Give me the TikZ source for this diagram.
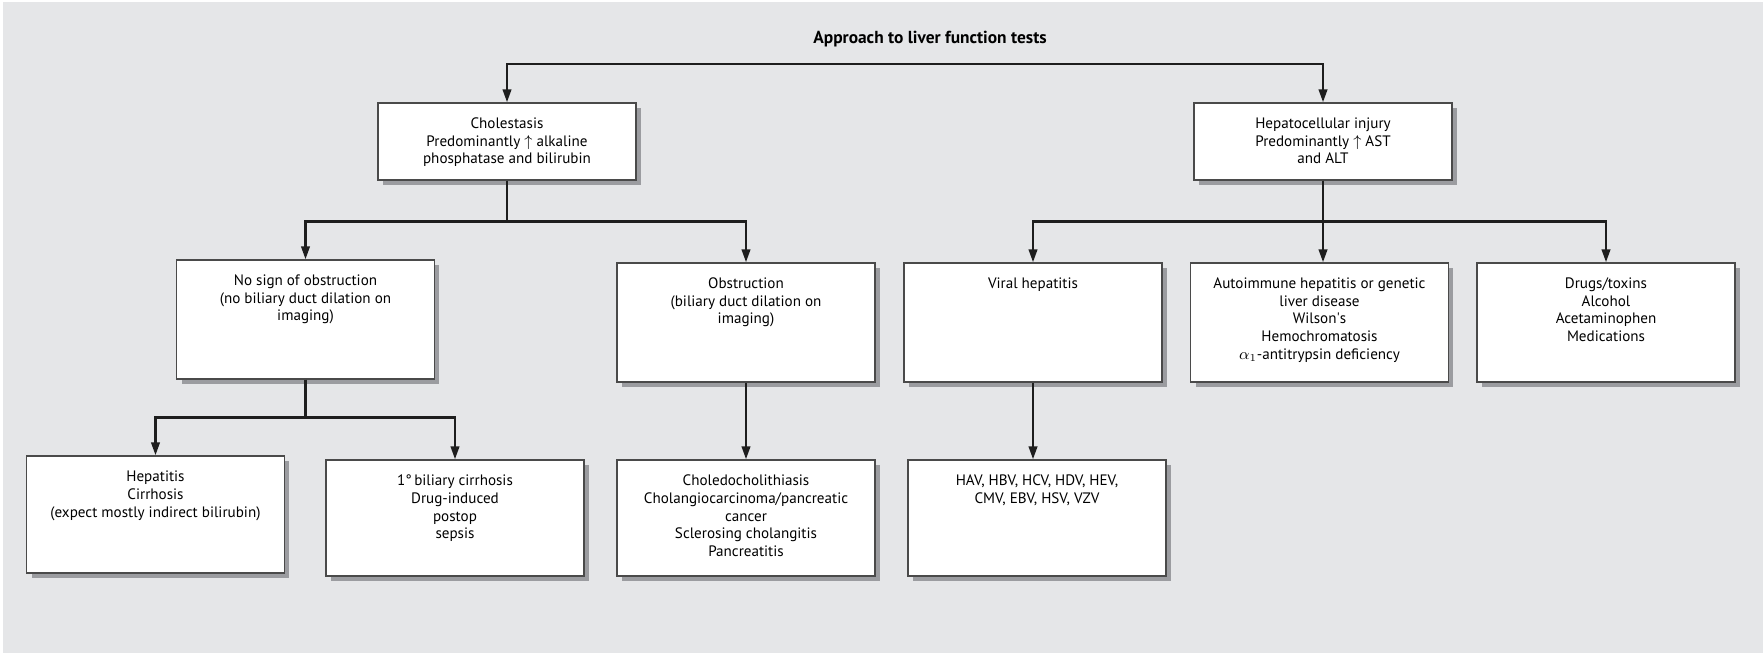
\documentclass[tikz,border=0pt]{standalone}
\usepackage{fontspec}
\setmainfont{PT Sans}
\usetikzlibrary{arrows.meta,shadows}
\definecolor{bggray}{HTML}{E5E6E8}
\definecolor{shadowgray}{HTML}{9B9CA0}
\definecolor{boxline}{HTML}{4A4A4A}
\definecolor{linkline}{HTML}{1E1E1E}
% box text: height, lines
\newcommand{\boxtxt}[2]{\parbox[c][#1][t]{5.16cm}{\centering\rule{0pt}{0.5cm}#2}}
\tikzset{
  box/.style={draw=boxline, line width=0.8pt, fill=white, inner sep=0pt,
    drop shadow={shadow xshift=0.1cm, shadow yshift=-0.1cm, fill=shadowgray, opacity=1}},
  link/.style={draw=linkline, line width=1.4pt},
  arr/.style={link, -{Triangle[length=0.26cm,width=0.17cm]}},
}
\begin{document}
\begin{tikzpicture}[x=0.02cm, y=-0.02cm, font=\fontsize{8.6}{10.24}\selectfont]
  \useasboundingbox (0,0) rectangle (1763,653);
  \fill[white] (0,0) rectangle (1763,653);
  \fill[bggray] (3,2) rectangle (1763,653);

  \node[font=\fontsize{9.9}{11}\selectfont\bfseries] (title) at (930,39) {Approach to liver function tests};

  % first level
  \node[box] (chol) at (507,141.5) {\boxtxt{1.54cm}{Cholestasis\\Predominantly $\uparrow$ alkaline\\phosphatase and bilirubin}};
  \node[box] (hep) at (1323,141.5) {\boxtxt{1.54cm}{Hepatocellular injury\\Predominantly $\uparrow$\ AST\\and ALT}};

  % second level
  \node[box] (nosign) at (305.5,319.5) {\boxtxt{2.38cm}{No sign of obstruction\\(no biliary duct dilation on\\imaging)}};
  \node[box] (obst) at (746,322.5) {\boxtxt{2.38cm}{Obstruction\\(biliary duct dilation on\\imaging)}};
  \node[box] (viral) at (1033,322.5) {\boxtxt{2.38cm}{Viral hepatitis}};
  \node[box] (auto) at (1319.5,322.5) {\boxtxt{2.38cm}{Autoimmune hepatitis or genetic\\liver disease\\Wilson\textquotesingle s\\Hemochromatosis\\$\alpha_1$-antitrypsin deficiency}};
  \node[box] (drugs) at (1606,322.5) {\boxtxt{2.38cm}{Drugs/toxins\\Alcohol\\Acetaminophen\\Medications}};

  % third level
  \node[box] (hepat) at (155.5,514.5) {\boxtxt{2.34cm}{Hepatitis\\Cirrhosis\\(expect mostly indirect bilirubin)}};
  \node[box] (bil) at (455,518) {\boxtxt{2.32cm}{1°\,biliary cirrhosis\\Drug-induced\\postop\\sepsis}};
  \node[box] (choled) at (746,518) {\boxtxt{2.32cm}{Choledocholithiasis\\Cholangiocarcinoma/pancreatic\\cancer\\Sclerosing cholangitis\\Pancreatitis}};
  \node[box] (hav) at (1037,518) {\boxtxt{2.32cm}{HAV, HBV, HCV, HDV, HEV,\\CMV, EBV, HSV, VZV}};

  % connectors
  \coordinate (split) at (915,64);
  \draw[arr] (split) -| (chol.north);
  \draw[arr] (split) -| (hep.north);
  \draw[arr] (chol.south) -- ++(0,41) -| (nosign.north);
  \draw[arr] (chol.south) -- ++(0,41) -| (obst.north);
  \draw[arr] (hep.south) -- ++(0,41) -| (viral.north);
  \draw[arr] (hep.south) -- (hep.south |- auto.north);
  \draw[arr] (hep.south) -- ++(0,41) -| (drugs.north);
  \draw[arr] (nosign.south) -- ++(0,38) -| (hepat.north);
  \draw[arr] (nosign.south) -- ++(0,38) -| (bil.north);
  \draw[arr] (obst.south) -- (choled.north);
  \draw[arr] (viral.south) -- (viral.south |- hav.north);
\end{tikzpicture}
\end{document}
